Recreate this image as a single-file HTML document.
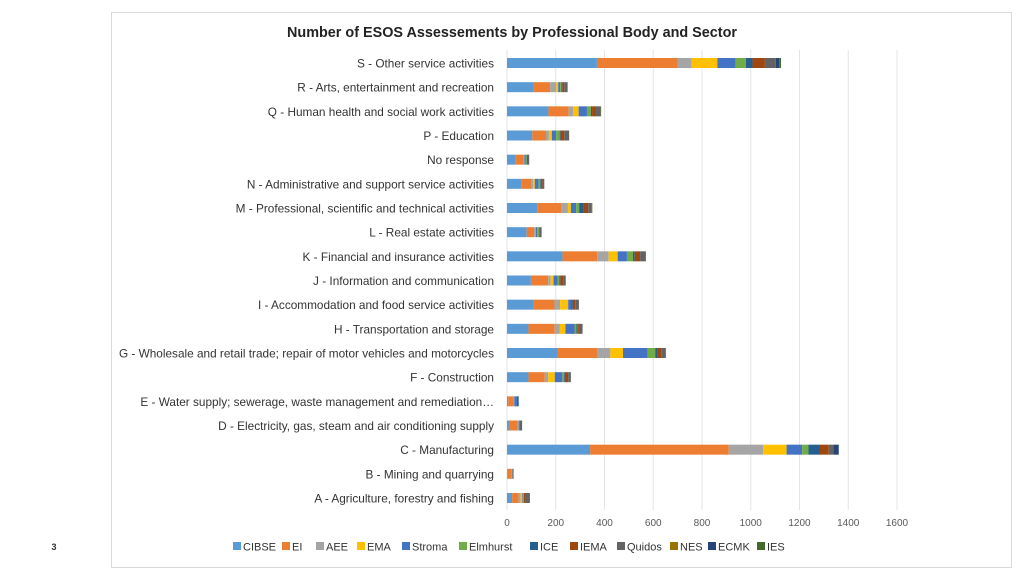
<!DOCTYPE html>
<html><head><meta charset="utf-8"><style>
body{margin:0;width:1024px;height:576px;background:#fff;overflow:hidden;font-family:"Liberation Sans",sans-serif}
svg{position:absolute;left:0;top:0}
</style></head><body>
<svg id="c" width="1024" height="576"></svg>
<script>
const categories=["S - Other service activities","R - Arts, entertainment and recreation","Q - Human health and social work activities","P - Education","No response","N - Administrative and support service activities","M - Professional, scientific and technical activities","L - Real estate activities","K - Financial and insurance activities","J - Information and communication","I - Accommodation and food service activities","H - Transportation and storage","G - Wholesale and retail trade; repair of motor vehicles and motorcycles","F - Construction","E - Water supply; sewerage, waste management and remediation…","D - Electricity, gas, steam and air conditioning supply","C - Manufacturing","B - Mining and quarrying","A - Agriculture, forestry and fishing"];
const seriesNames=["CIBSE","EI","AEE","EMA","Stroma","Elmhurst","ICE","IEMA","Quidos","NES","ECMK","IES"];
const CIBSE=[369,109,170,104,36,59,126,81,228,98,109,88,209,88,5,8,341,3,21];
const EI=[332,68,83,56,33,41,97,31,142,71,86,108,163,67,22,33,569,16,27];
const AEE=[57,25,18,12,3,7,27,7,47,10,23,21,52,14,3,7,141,3,8];
const EMA=[105,8,23,12,0,7,12,0,37,12,33,23,52,27,0,0,96,0,7];
const Stroma=[75,8,34,18,4,15,22,5,38,16,12,37,101,31,10,4,64,0,3];
const Elmhurst=[42,5,16,14,5,7,12,7,25,8,0,8,31,7,0,0,26,0,3];
const ICE=[27,4,5,4,3,3,16,0,7,4,7,3,11,3,8,0,45,0,0];
const IEMA=[51,8,16,15,0,7,21,3,22,11,10,7,14,14,0,0,38,0,5];
const Quidos=[45,12,19,20,7,7,15,8,21,11,15,15,16,11,0,10,19,5,20];
const NES=[0,0,0,0,0,0,0,0,0,0,0,0,0,0,0,0,0,0,0];
const ECMK=[14,0,0,0,0,0,0,0,0,0,0,0,0,0,0,0,22,0,0];
const IES=[7,2,2,0,0,0,2,0,3,0,0,0,3,0,0,0,0,0,0];
const xTicks=[0,200,400,600,800,1000,1200,1400,1600];
const series=[CIBSE,EI,AEE,EMA,Stroma,Elmhurst,ICE,IEMA,Quidos,NES,ECMK,IES];
const colors=["#5B9BD5","#ED7D31","#A5A5A5","#FFC000","#4472C4","#70AD47","#255E91","#9E480E","#636363","#997300","#264478","#43682B"];
const svg=document.getElementById('c');const NS="http://www.w3.org/2000/svg";
function mk(t,a,txt){const e=document.createElementNS(NS,t);for(const k in a)e.setAttribute(k,a[k]);if(txt!==undefined)e.textContent=txt;svg.appendChild(e);return e;}
const x0=507,x1=897,xmax=1600;
const X=v=>x0+v/xmax*(x1-x0);
const yTop=63,yStep=(498-63)/(categories.length-1);
const Y=i=>yTop+i*yStep;
let e;
e=mk('rect',{x:111.5,y:12.5,width:900,height:555,fill:'#fff',stroke:'#d9d9d9'});


e=mk('text',{x:512,y:37,'text-anchor':'middle','font-size':'14.5','font-weight':'bold',fill:'#222',textLength:450,lengthAdjust:'spacingAndGlyphs'},'Number of ESOS Assessements by Professional Body and Sector');


xTicks.forEach(t=>{
 e=mk('line',{x1:X(t),x2:X(t),y1:50,y2:510,stroke:'#e4e4e4','stroke-width':1});
 
 
 e=mk('text',{x:X(t),y:526,'text-anchor':'middle','font-size':'10',fill:'#595959'},t);
 
 
});
categories.forEach((c,i)=>{
 e=mk('text',{x:494,y:Y(i)+4.5,'text-anchor':'end','font-size':'11.8',fill:'#333'},c);
 
 
 let acc=0;
 series.forEach((s,j)=>{
  const v=s[i];if(!v){return;}
  e=mk('rect',{x:X(acc),y:Y(i)-5,width:X(acc+v)-X(acc),height:10,fill:colors[j]});
  
  
  acc+=v;
 });
});
const legX=[233,282,316,357,402,459,530,570,617,670,708,757];
seriesNames.forEach((n,j)=>{
 e=mk('rect',{x:legX[j],y:542,width:8,height:8,fill:colors[j]});
 
 
 e=mk('text',{x:legX[j]+10,y:550.5,'font-size':'11',fill:'#333'},n);
 
 
});
e=mk('text',{x:54,y:550,'text-anchor':'middle','font-size':'9','font-weight':'bold',fill:'#333'},'3');


</script>
</body></html>
